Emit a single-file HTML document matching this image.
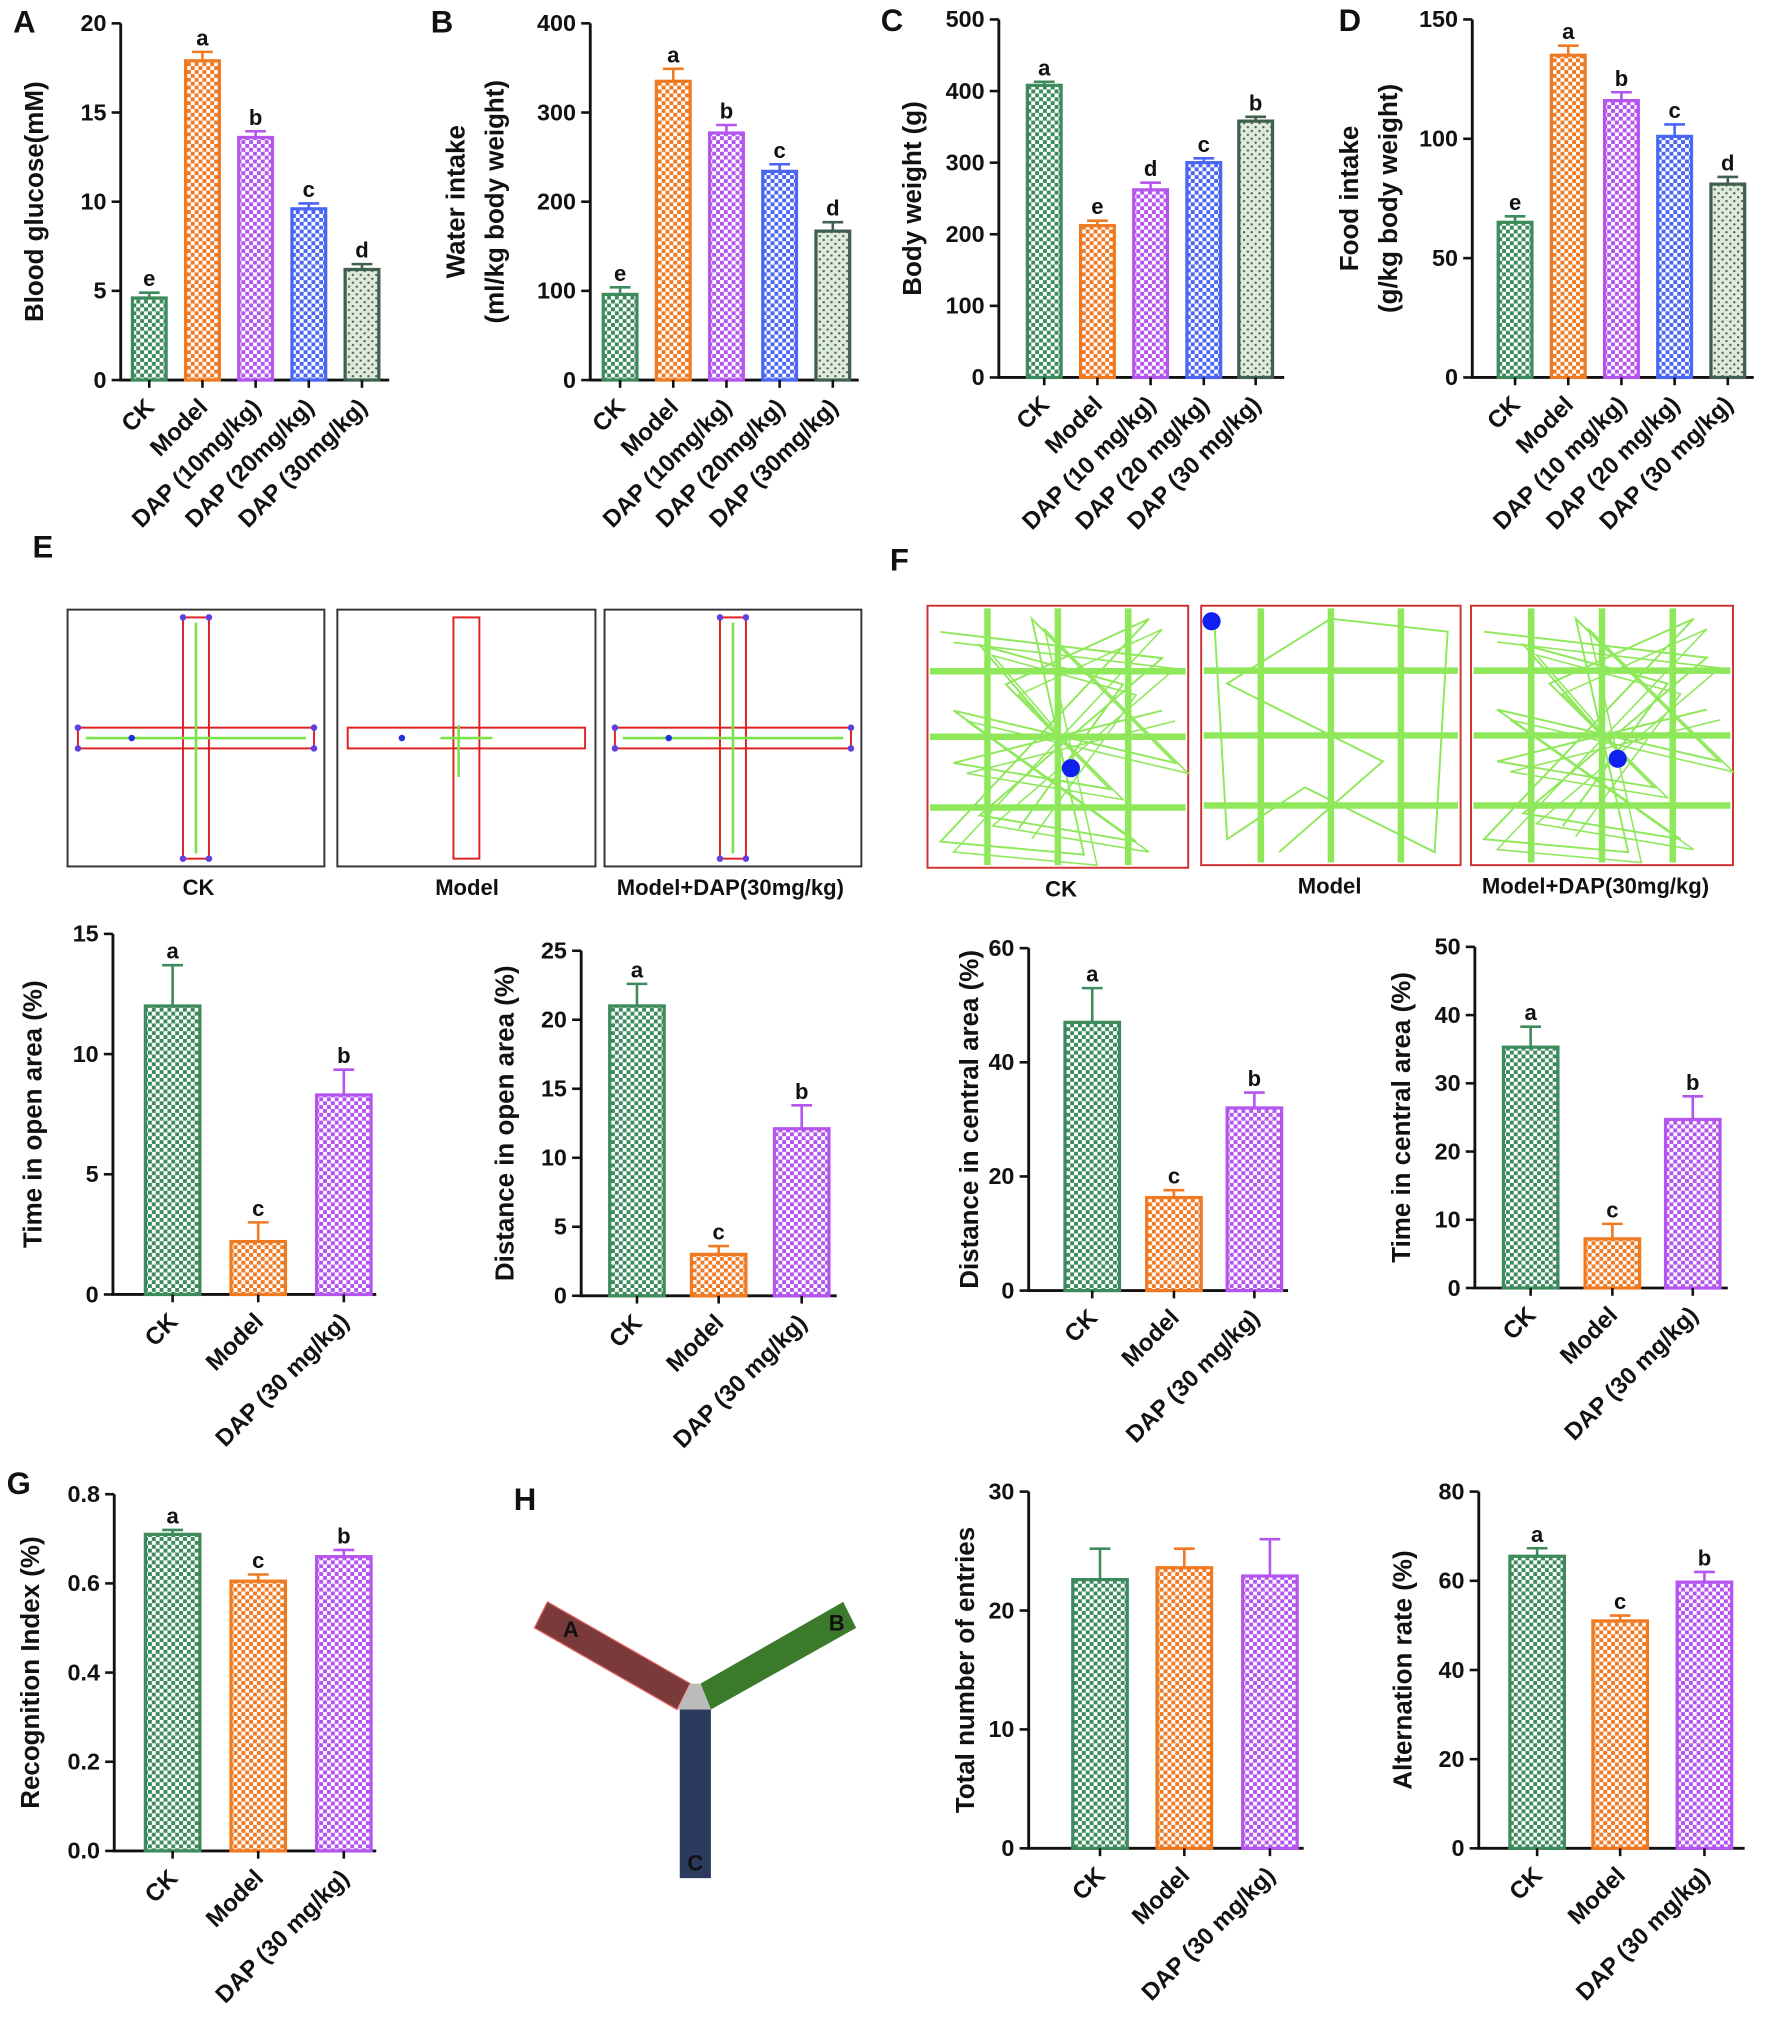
<!DOCTYPE html>
<html><head><meta charset="utf-8"><style>
html,body{margin:0;padding:0;background:#fff}
svg{display:block}
text{font-family:"Liberation Sans",Arial,sans-serif;font-weight:bold;fill:#111}
</style></head><body>
<svg id="fig" width="1772" height="2039" viewBox="0 0 1366 1572" xmlns="http://www.w3.org/2000/svg">
<defs>
<pattern id="p-green" width="6" height="6" patternUnits="userSpaceOnUse"><rect width="6" height="6" fill="#fff"/><rect width="3" height="3" fill="#3d8a5c"/><rect x="3" y="3" width="3" height="3" fill="#3d8a5c"/></pattern>
<pattern id="p-orange" width="6" height="6" patternUnits="userSpaceOnUse"><rect width="6" height="6" fill="#fff"/><rect width="3" height="3" fill="#f07a22"/><rect x="3" y="3" width="3" height="3" fill="#f07a22"/></pattern>
<pattern id="p-purple" width="6" height="6" patternUnits="userSpaceOnUse"><rect width="6" height="6" fill="#fff"/><rect width="3" height="3" fill="#b455f0"/><rect x="3" y="3" width="3" height="3" fill="#b455f0"/></pattern>
<pattern id="p-blue" width="6" height="6" patternUnits="userSpaceOnUse"><rect width="6" height="6" fill="#fff"/><rect width="3" height="3" fill="#4a66f2"/><rect x="3" y="3" width="3" height="3" fill="#4a66f2"/></pattern>
<pattern id="p-dot" width="6" height="6" patternUnits="userSpaceOnUse"><rect width="6" height="6" fill="#dfeadd"/><circle cx="2" cy="2" r="0.9" fill="#40604f"/><circle cx="5" cy="5" r="0.9" fill="#40604f"/></pattern>
</defs>
<g id="root"></g>
</svg>
<script>
// ---- data ----
const catsA = ["CK","Model","DAP (10mg/kg)","DAP (20mg/kg)","DAP (30mg/kg)"];
const catsC = ["CK","Model","DAP (10 mg/kg)","DAP (20 mg/kg)","DAP (30 mg/kg)"];
const cats3 = ["CK","Model","DAP (30 mg/kg)"];
const valsA = [4.6,17.9,13.6,9.6,6.2];
const errA = [0.3,0.5,0.35,0.3,0.3];
const letA = ["e","a","b","c","d"];
const ticksA = [0,5,10,15,20];
const valsB = [96,335,277,234,167];
const errB = [8,14,9,8,10];
const letB = ["e","a","b","c","d"];
const ticksB = [0,100,200,300,400];
const valsC = [408,212,262,300,358];
const errC = [5,7,10,6,6];
const letC = ["a","e","d","c","b"];
const ticksC = [0,100,200,300,400,500];
const valsD = [65,135,116,101,81];
const errD = [2.5,4,3.5,5,3];
const letD = ["e","a","b","c","d"];
const ticksD = [0,50,100,150];
const valsE1 = [12,2.2,8.3];
const errE1 = [1.7,0.8,1.05];
const letE1 = ["a","c","b"];
const ticksE1 = [0,5,10,15];
const valsE2 = [21,3,12.1];
const errE2 = [1.6,0.6,1.7];
const ticksE2 = [0,5,10,15,20,25];
const valsF1 = [47,16.3,32];
const errF1 = [6,1.3,2.7];
const ticksF1 = [0,20,40,60];
const valsF2 = [35.3,7.2,24.7];
const errF2 = [3,2.2,3.4];
const ticksF2 = [0,10,20,30,40,50];
const valsG = [0.71,0.605,0.66];
const errG = [0.01,0.015,0.015];
const ticksG = [0,0.2,0.4,0.6,0.8];
const valsH1 = [22.6,23.6,22.9];
const errH1 = [2.6,1.6,3.1];
const ticksH1 = [0,10,20,30];
const valsH2 = [65.5,51,59.7];
const errH2 = [1.8,1.2,2.3];
const ticksH2 = [0,20,40,60,80];

const NS="http://www.w3.org/2000/svg";
const root=document.getElementById('root');
function el(tag,attrs,parent,txt){const e=document.createElementNS(NS,tag);for(const k in attrs)e.setAttribute(k,attrs[k]);if(txt!==undefined)e.textContent=txt;(parent||root).appendChild(e);return e;}

const styles5=[["url(#p-green)","#3d8a5c"],["url(#p-orange)","#f07a22"],["url(#p-purple)","#b455f0"],["url(#p-blue)","#4a66f2"],["url(#p-dot)","#40604f"]];

function chart(name,c){
  const g=el('g',{});
  
  
  const max=c.ticks[c.ticks.length-1];
  const y=v=>c.bottom-(v/max)*(c.bottom-c.top);
  const ax=el('path',{d:`M${c.x0} ${c.top} V${c.bottom} H${c.x1}`,stroke:'#111','stroke-width':2.2,fill:'none'},g);
  
  
  c.ticks.forEach(t=>{
    const yy=y(t);
    el('line',{x1:c.x0-7,x2:c.x0,y1:yy,y2:yy,stroke:'#111','stroke-width':2},g);
    const tl=el('text',{x:c.x0-11,y:yy+6,'text-anchor':'end','font-size':18},g,c.fix?t.toFixed(1):String(t));
    
    
  });
  c.vals.forEach((v,i)=>{
    const cx=c.cx[i], st=styles5[c.sty[i]];
    const b=el('rect',{x:cx-c.w/2,y:y(v),width:c.w,height:c.bottom-y(v),fill:st[0],stroke:st[1],'stroke-width':2.5},g);
    
    
    const et=y(v+c.err[i]);
    el('path',{d:`M${cx} ${y(v)} V${et} M${cx-8} ${et} H${cx+8}`,stroke:st[1],'stroke-width':2,fill:'none'},g);
    if(c.let){const lt=el('text',{x:cx,y:et-5,'text-anchor':'middle','font-size':17},g,c.let[i]);
      
      }
    el('line',{x1:cx,x2:cx,y1:c.bottom,y2:c.bottom+6,stroke:'#111','stroke-width':2},g);
    const xl=el('text',{x:cx+5,y:c.bottom+22,'text-anchor':'end','font-size':18.5,transform:`rotate(-45 ${cx+5} ${c.bottom+22})`},g,c.cats[i]);
    
    
  });
  c.ylab.forEach((l,j)=>{
    const yl=el('text',{x:c.ylx+j*30,y:(c.top+c.bottom)/2,'text-anchor':'middle','font-size':20,transform:`rotate(-90 ${c.ylx+j*30} ${(c.top+c.bottom)/2})`},g,l);
    
    
  });
}
chart('chart-blood-glucose',{x0:93,x1:300,top:18,bottom:293,ticks:ticksA,vals:valsA,err:errA,let:letA,cats:catsA,cx:[115,156,197,238,279],w:26,sty:[0,1,2,3,4],ylab:["Blood glucose(mM)"],ylx:33});
chart('chart-water-intake',{x0:455,x1:662,top:18,bottom:293,ticks:ticksB,vals:valsB,err:errB,let:letB,cats:catsA,cx:[478,519,560,601,642],w:26,sty:[0,1,2,3,4],ylab:["Water intake","(ml/kg body weight)"],ylx:358});
chart('chart-body-weight',{x0:770,x1:990,top:15,bottom:291,ticks:ticksC,vals:valsC,err:errC,let:letC,cats:catsC,cx:[805,846,887,928,968],w:26,sty:[0,1,2,3,4],ylab:["Body weight (g)"],ylx:710});
chart('chart-food-intake',{x0:1135,x1:1352,top:15,bottom:291,ticks:ticksD,vals:valsD,err:errD,let:letD,cats:catsC,cx:[1168,1209,1250,1291,1332],w:26,sty:[0,1,2,3,4],ylab:["Food intake","(g/kg body weight)"],ylx:1047});
chart('chart-time-open-area',{x0:87,x1:290,top:720,bottom:998,ticks:ticksE1,vals:valsE1,err:errE1,let:letE1,cats:cats3,cx:[133,199,265],w:42,sty:[0,1,2],ylab:["Time in open area  (%)"],ylx:32});
chart('chart-distance-open-area',{x0:448,x1:645,top:733,bottom:999,ticks:ticksE2,vals:valsE2,err:errE2,let:letE1,cats:cats3,cx:[491,554,618],w:42,sty:[0,1,2],ylab:["Distance in open area  (%)"],ylx:396});
chart('chart-distance-central-area',{x0:793,x1:993,top:731,bottom:995,ticks:ticksF1,vals:valsF1,err:errF1,let:letE1,cats:cats3,cx:[842,905,967],w:42,sty:[0,1,2],ylab:["Distance in central area  (%)"],ylx:754});
chart('chart-time-central-area',{x0:1137,x1:1332,top:730,bottom:993,ticks:ticksF2,vals:valsF2,err:errF2,let:letE1,cats:cats3,cx:[1180,1243,1305],w:42,sty:[0,1,2],ylab:["Time in central area  (%)"],ylx:1087});
chart('chart-recognition-index',{x0:88,x1:290,top:1152,bottom:1427,ticks:ticksG,vals:valsG,err:errG,let:letE1,cats:cats3,cx:[133,199,265],w:42,sty:[0,1,2],ylab:["Recognition Index (%)"],ylx:30,fix:true});
chart('chart-total-entries',{x0:793,x1:1005,top:1150,bottom:1425,ticks:ticksH1,vals:valsH1,err:errH1,let:null,cats:cats3,cx:[848,913,979],w:42,sty:[0,1,2],ylab:["Total number of entries"],ylx:751});
chart('chart-alternation-rate',{x0:1140,x1:1345,top:1150,bottom:1425,ticks:ticksH2,vals:valsH2,err:errH2,let:letE1,cats:cats3,cx:[1185,1249,1314],w:42,sty:[0,1,2],ylab:["Alternation rate (%)"],ylx:1088});

// panel letters
[["A",10,25],["B",332,25],["C",679,24],["D",1032,24],["E",25,430],["F",686,440],["G",5,1152],["H",396,1164]].forEach(p=>{
  const t=el('text',{x:p[1],y:p[2],'font-size':24},root,p[0]);
  
  
});

// elevated plus maze
function maze(name,x,y,w,h,label,lx,showTrack){
  const g=el('g',{});
  
  
  el('rect',{x:x,y:y,width:w,height:h,fill:'#fff',stroke:'#333','stroke-width':1.5},g);
  const cx=x+w/2, cy=y+h/2+(name.includes('model-')&&!name.includes('dap')?-6:0);
  el('rect',{x:cx-10,y:y+6,width:20,height:h-12,fill:'none',stroke:'#e02020','stroke-width':1.5},g);
  el('rect',{x:x+8,y:cy-8,width:w-16,height:16,fill:'none',stroke:'#e02020','stroke-width':1.5},g);
  if(showTrack){
    el('path',{d:`M${x+14} ${cy} H${x+w-14} M${cx} ${y+10} V${y+h-10}`,stroke:'#7be34a','stroke-width':2,fill:'none'},g);
    [[cx-10,y+6],[cx+10,y+6],[cx-10,y+h-6],[cx+10,y+h-6],[x+8,cy-8],[x+8,cy+8],[x+w-8,cy-8],[x+w-8,cy+8]].forEach(p=>el('circle',{cx:p[0],cy:p[1],r:2.5,fill:'#6040e0'},g));
  } else {
    el('path',{d:`M${cx-6} ${cy-10} V${cy+30} M${cx-20} ${cy} H${cx+20}`,stroke:'#7be34a','stroke-width':2,fill:'none'},g);
  }
  el('circle',{cx:x+w*0.25,cy:cy,r:2.5,fill:'#2030e0'},g);
  const t=el('text',{x:lx,y:y+h+22,'text-anchor':'middle','font-size':17},g,label);
  
  
}
maze('plus-maze-ck',52,470,198,198,'CK',153,true);
maze('plus-maze-model',260,470,199,198,'Model',360,false);
maze('plus-maze-model-dap',466,470,198,198,'Model+DAP(30mg/kg)',563,true);

// open field
function field(name,x,y,w,h,label,lx,dense,blob){
  const g=el('g',{});
  
  
  el('rect',{x:x,y:y,width:w,height:h,fill:'#fff',stroke:'#d03030','stroke-width':1.5},g);
  const gx=[0.23,0.5,0.77], gy=[0.25,0.5,0.77];
  gx.forEach(f=>el('line',{x1:x+w*f,x2:x+w*f,y1:y+2,y2:y+h-2,stroke:'#8ee85a','stroke-width':5},g));
  gy.forEach(f=>el('line',{x1:x+2,x2:x+w-2,y1:y+h*f,y2:y+h*f,stroke:'#8ee85a','stroke-width':5},g));
  let d='';
  const pts=dense?[[.05,.1],[.9,.2],[.2,.8],[.8,.9],[.1,.4],[.95,.6],[.4,.05],[.6,.95],[.05,.9],[.85,.05],[.3,.3],[.7,.7],[.1,.6],[.9,.4],[.5,.5],[.2,.15],[.75,.3],[.35,.85]]:[[.05,.05],[.1,.9],[.4,.7],[.9,.95],[.95,.1],[.5,.05],[.1,.3],[.7,.6],[.3,.95]];
  pts.forEach((p,i)=>{d+=(i?'L':'M')+(x+p[0]*w)+' '+(y+p[1]*h)+' ';});
  el('path',{d:d,stroke:'#8ee85a','stroke-width':1.5,fill:'none'},g);
  if(dense) el('path',{d:d,stroke:'#8ee85a','stroke-width':1.2,fill:'none',transform:`translate(${w*0.05} ${h*0.04})`},g);
  el('circle',{cx:x+blob[0]*w,cy:y+blob[1]*h,r:7,fill:'#1020f0'},g);
  const t=el('text',{x:lx,y:y+h+22,'text-anchor':'middle','font-size':17},g,label);
  
  
}
field('open-field-ck',715,467,201,202,'CK',818,true,[0.55,0.62]);
field('open-field-model',926,467,200,200,'Model',1025,false,[0.04,0.06]);
field('open-field-model-dap',1134,467,202,200,'Model+DAP(30mg/kg)',1230,true,[0.56,0.59]);

// Y maze
const ym=el('g',{});


el('polygon',{points:'422,1235 532,1298 522,1318 412,1255',fill:'#7a3a3a',stroke:'#e06060','stroke-width':1},ym);
el('polygon',{points:'540,1298 650,1235 660,1255 548,1318',fill:'#3a7a2a'},ym);
el('polygon',{points:'532,1298 540,1298 548,1318 522,1318',fill:'#bbb'},ym);
el('rect',{x:524,y:1318,width:24,height:130,fill:'#2c3a60'},ym);
[["A",440,1262],["B",645,1257],["C",536,1442]].forEach(p=>{const t=el('text',{x:p[1],y:p[2],'text-anchor':'middle','font-size':17},ym,p[0]);
  
  });
</script>
</body></html>
